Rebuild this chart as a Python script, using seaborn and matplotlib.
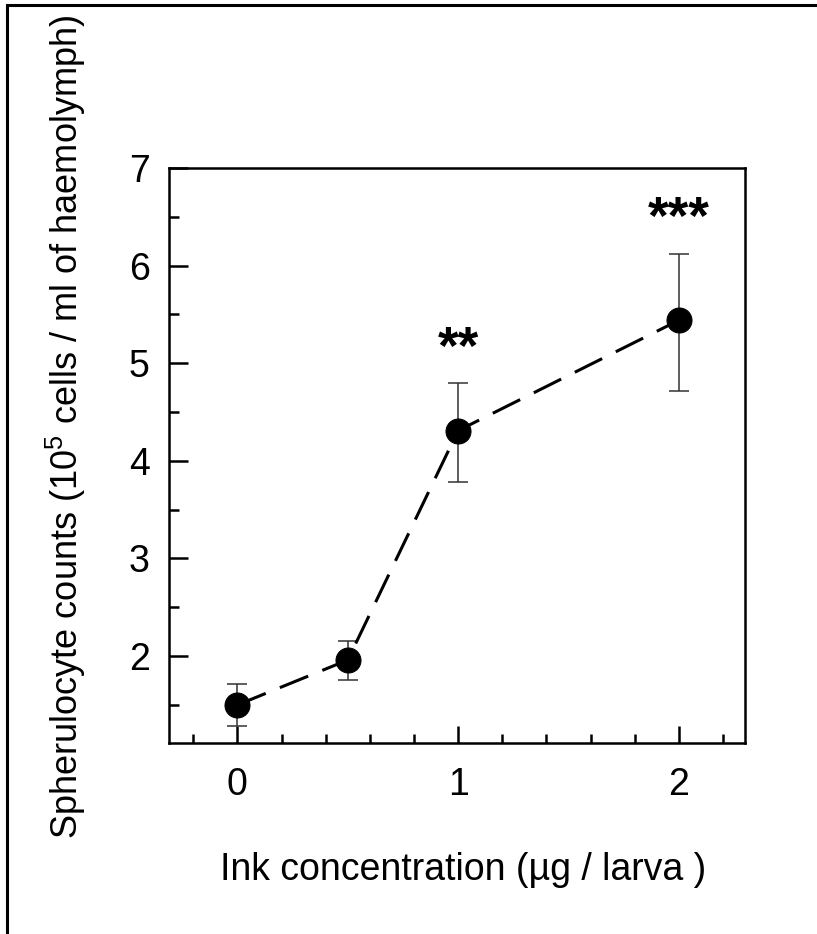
import matplotlib
matplotlib.use("Agg")
import matplotlib.pyplot as plt
import seaborn as sns
import pandas as pd
from matplotlib.patches import Rectangle
from matplotlib.ticker import FixedLocator, MultipleLocator

# ---- data ----
concentration = [0.0, 0.5, 1.0, 2.0]
counts = [1.50, 1.96, 4.31, 5.44]
err_low = [0.22, 0.20, 0.53, 0.72]
err_high = [0.21, 0.19, 0.49, 0.68]
significance = ["", "", "**", "***"]
star_y = [None, None, 5.14, 6.47]
x_major_ticks = [0, 1, 2]
y_major_ticks = [2, 3, 4, 5, 6, 7]

df = pd.DataFrame({"conc": concentration, "count": counts})

sns.set_theme(style="white")
plt.rcParams["font.family"] = ["Liberation Sans", "DejaVu Sans"]
plt.rcParams["mathtext.fontset"] = "custom"
plt.rcParams["mathtext.rm"] = "Liberation Sans"
plt.rcParams["mathtext.default"] = "regular"

fig = plt.figure(figsize=(8.17, 9.34), dpi=100)
ax = fig.add_axes([169 / 817, 191 / 934, 576 / 817, 575 / 934])

# error bars
ax.errorbar(concentration, counts, yerr=[err_low, err_high], fmt="none",
            ecolor="#333333", elinewidth=1.1, capsize=7, capthick=1.1, zorder=2)

# dashed line with markers
sns.lineplot(data=df, x="conc", y="count", ax=ax, color="black",
             linewidth=2.2, linestyle=(0, (10, 5)), marker="o",
             markersize=18, markeredgecolor="black", markerfacecolor="black",
             zorder=3)

for xv, s, sy in zip(concentration, significance, star_y):
    if s:
        ax.text(xv, sy, s, ha="center", va="center", fontsize=38,
                fontweight="bold", color="black")

ax.set_xlim(-0.31, 2.3)
ax.set_ylim(1.11, 7.0)

ax.xaxis.set_major_locator(FixedLocator(x_major_ticks))
ax.xaxis.set_minor_locator(MultipleLocator(0.2))
ax.yaxis.set_major_locator(FixedLocator(y_major_ticks))
ax.yaxis.set_minor_locator(MultipleLocator(0.5))
ax.set_xticklabels([str(v) for v in x_major_ticks])
ax.set_yticklabels([str(v) for v in y_major_ticks])

ax.tick_params(axis="both", which="both", direction="in", color="black",
               width=1.8, labelsize=27, labelcolor="black",
               bottom=True, left=True, top=False, right=False)
ax.tick_params(axis="x", which="major", length=12, pad=17)
ax.tick_params(axis="x", which="minor", length=6.5)
ax.tick_params(axis="y", which="major", length=14, pad=14)
ax.tick_params(axis="y", which="minor", length=7.5)

for sp in ax.spines.values():
    sp.set_visible(True)
    sp.set_color("black")
    sp.set_linewidth(1.8)

ax.set_xlabel("Ink concentration (µg / larva )", fontsize=27, color="black")
ax.set_ylabel("Spherulocyte counts (10$^{5}$ cells / ml of haemolymph)",
              fontsize=26, color="black")
ax.xaxis.set_label_coords((463 - 169) / 576, (743 - 852) / 575)
ax.yaxis.set_label_coords((88 - 169) / 576, (743 - 427) / 575)
ax.xaxis.label.set_va("top")

# outer figure border (clipped at right and bottom)
fig.add_artist(Rectangle((7 / 817, -0.2), 1.5, 0.2 + (1 - 4.5 / 934),
                         transform=fig.transFigure, fill=False,
                         edgecolor="black", linewidth=2.2))

fig.savefig("out.png", dpi=100)
